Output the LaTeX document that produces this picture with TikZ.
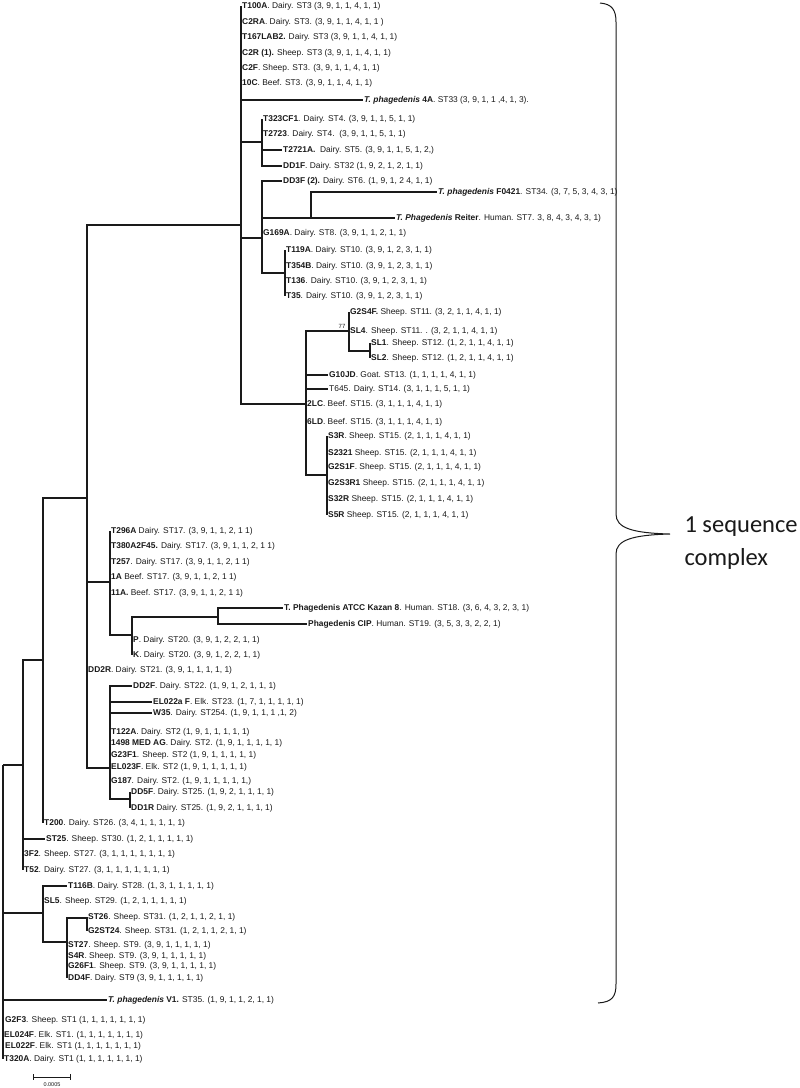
\documentclass[tikz,border=0pt]{standalone}
\usepackage{fontspec}
\setmainfont{Liberation Sans}
\newfontfamily\calfont{Carlito}
\usetikzlibrary{calc}
\definecolor{Ink}{HTML}{1A1A1A}
\tikzset{
  lf/.style={anchor=west,inner sep=1pt,font=\fontsize{8.4}{9}\selectfont,text=Ink},
  br/.style={draw=Ink,line width=1.2pt},
}
\newcommand{\spname}[1]{\textbf{\textit{#1}}}

\begin{document}
\begin{tikzpicture}[x=1pt,y=-1pt]
\fill[white] (0,0) rectangle (800,1088);
\useasboundingbox (0,0) rectangle (800,1088);
\coordinate (n241) at (241,225);
\node[lf] (T100A) at (241,6) {\textbf{T100A}. Dairy. ST3 (3, 9, 1, 1, 4, 1, 1)};
\node[lf] (C2RA) at (241,22) {\textbf{C2RA}. Dairy. ST3. (3, 9, 1, 1, 4, 1, 1 )};
\node[lf] (T167LAB2) at (241,37) {\textbf{T167LAB2.} Dairy. ST3 (3, 9, 1, 1, 4, 1, 1)};
\node[lf] (C2R) at (241,53) {\textbf{C2R (1).} Sheep. ST3 (3, 9, 1, 1, 4, 1, 1)};
\node[lf] (C2F) at (241,68) {\textbf{C2F}. Sheep. ST3. (3, 9, 1, 1, 4, 1, 1)};
\node[lf] (C10C) at (241,83) {\textbf{10C}. Beef. ST3. (3, 9, 1, 1, 4, 1, 1)};
\node[lf] (P4A) at (363,100) {\spname{T. phagedenis} \textbf{4A}. ST33 (3, 9, 1, 1 ,4, 1, 3).};
\coordinate (n262a) at (262,142);
\node[lf] (T323CF1) at (262,119) {\textbf{T323CF1}. Dairy. ST4. (3, 9, 1, 1, 5, 1, 1)};
\node[lf] (T2723) at (262,134) {\textbf{T2723}. Dairy. ST4.\ \ (3, 9, 1, 1, 5, 1, 1)};
\node[lf] (T2721A) at (282,150) {\textbf{T2721A.}\ \ Dairy. ST5. (3, 9, 1, 1, 5, 1, 2,)};
\node[lf] (DD1F) at (282,166) {\textbf{DD1F}. Dairy. ST32 (1, 9, 2, 1, 2, 1, 1)};
\coordinate (n262b) at (262,238);
\node[lf] (DD3F) at (282,181) {\textbf{DD3F (2).} Dairy. ST6. (1, 9, 1, 2 4, 1, 1)};
\coordinate (n311) at (311,218);
\node[lf] (F0421) at (437,192) {\spname{T. phagedenis} \textbf{F0421}. ST34. (3, 7, 5, 3, 4, 3, 1)};
\node[lf] (Reiter) at (395,218) {\spname{T. Phagedenis} \textbf{Reiter}. Human. ST7. 3, 8, 4, 3, 4, 3, 1)};
\node[lf] (G169A) at (262,233) {\textbf{G169A}. Dairy. ST8. (3, 9, 1, 1, 2, 1, 1)};
\coordinate (n285) at (285,273);
\node[lf] (T119A) at (285,250) {\textbf{T119A}. Dairy. ST10. (3, 9, 1, 2, 3, 1, 1)};
\node[lf] (T354B) at (285,266) {\textbf{T354B}. Dairy. ST10. (3, 9, 1, 2, 3, 1, 1)};
\node[lf] (T136) at (285,281) {\textbf{T136}. Dairy. ST10. (3, 9, 1, 2, 3, 1, 1)};
\node[lf] (T35) at (285,296) {\textbf{T35}. Dairy. ST10. (3, 9, 1, 2, 3, 1, 1)};
\coordinate (n306) at (306,404);
\coordinate (n349) at (349,331);
\node[lf] (G2S4F) at (349,312) {\textbf{G2S4F.} Sheep. ST11. (3, 2, 1, 1, 4, 1, 1)};
\node[lf] (SL4) at (349,331) {\textbf{SL4}. Sheep. ST11. . (3, 2, 1, 1, 4, 1, 1)};
\node[font=\fontsize{6}{6}\selectfont,text=Ink] (bs77) at (342,326) {77};
\coordinate (n370) at (370,351);
\node[lf] (SL1) at (370,343) {\textbf{SL1}. Sheep. ST12. (1, 2, 1, 1, 4, 1, 1)};
\node[lf] (SL2) at (370,358) {\textbf{SL2}. Sheep. ST12. (1, 2, 1, 1, 4, 1, 1)};
\node[lf] (G10JD) at (328,375) {\textbf{G10JD}. Goat. ST13. (1, 1, 1, 1, 4, 1, 1)};
\node[lf] (T645) at (328,389) {T645. Dairy. ST14. (3, 1, 1, 1, 5, 1, 1)};
\node[lf] (L2LC) at (306,404) {\textbf{2LC}. Beef. ST15. (3, 1, 1, 1, 4, 1, 1)};
\node[lf] (L6LD) at (306,422) {\textbf{6LD}. Beef. ST15. (3, 1, 1, 1, 4, 1, 1)};
\coordinate (n327) at (327,475);
\node[lf] (S3R) at (327,436) {\textbf{S3R}. Sheep. ST15. (2, 1, 1, 1, 4, 1, 1)};
\node[lf] (S2321) at (327,453) {\textbf{S2321} Sheep. ST15. (2, 1, 1, 1, 4, 1, 1)};
\node[lf] (G2S1F) at (327,467) {\textbf{G2S1F}. Sheep. ST15. (2, 1, 1, 1, 4, 1, 1)};
\node[lf] (G2S3R1) at (327,483) {\textbf{G2S3R1} Sheep. ST15. (2, 1, 1, 1, 4, 1, 1)};
\node[lf] (S32R) at (327,499) {\textbf{S32R} Sheep. ST15. (2, 1, 1, 1, 4, 1, 1)};
\node[lf] (S5R) at (327,515) {\textbf{S5R} Sheep. ST15. (2, 1, 1, 1, 4, 1, 1)};
\coordinate (n88) at (87,498);
\coordinate (n109) at (110,582);
\node[lf] (T296A) at (110,531) {\textbf{T296A} Dairy. ST17. (3, 9, 1, 1, 2, 1 1)};
\node[lf] (T380A2F45) at (110,546) {\textbf{T380A2F45.} Dairy. ST17. (3, 9, 1, 1, 2, 1 1)};
\node[lf] (T257) at (110,562) {\textbf{T257}. Dairy. ST17. (3, 9, 1, 1, 2, 1 1)};
\node[lf] (L1A) at (110,577) {\textbf{1A} Beef. ST17. (3, 9, 1, 1, 2, 1 1)};
\node[lf] (L11A) at (110,593) {\textbf{11A.} Beef. ST17. (3, 9, 1, 1, 2, 1 1)};
\coordinate (n132) at (132,635);
\coordinate (n218) at (218,617);
\node[lf] (Kazan) at (283,608) {\textbf{T. Phagedenis ATCC Kazan 8}. Human. ST18. (3, 6, 4, 3, 2, 3, 1)};
\node[lf] (CIP) at (307,624) {\textbf{Phagedenis CIP}. Human. ST19. (3, 5, 3, 3, 2, 2, 1)};
\node[lf] (P) at (132,640) {\textbf{P}. Dairy. ST20. (3, 9, 1, 2, 2, 1, 1)};
\node[lf] (K) at (132,655) {\textbf{K}. Dairy. ST20. (3, 9, 1, 2, 2, 1, 1)};
\node[lf] (DD2R) at (87,670) {\textbf{DD2R}. Dairy. ST21. (3, 9, 1, 1, 1, 1, 1)};
\coordinate (n110) at (110,768);
\node[lf] (DD2F) at (132,686) {\textbf{DD2F}. Dairy. ST22. (1, 9, 1, 2, 1, 1, 1)};
\node[lf] (EL022aF) at (152,702) {\textbf{EL022a F}. Elk. ST23. (1, 7, 1, 1, 1, 1, 1)};
\node[lf] (W35) at (152,713) {\textbf{W35}. Dairy. ST254. (1, 9, 1, 1, 1 ,1, 2)};
\node[lf] (T122A) at (110,732) {\textbf{T122A}. Dairy. ST2 (1, 9, 1, 1, 1, 1, 1)};
\node[lf] (MEDAG) at (110,743) {\textbf{1498 MED AG}. Dairy. ST2. (1, 9, 1, 1, 1, 1, 1)};
\node[lf] (G23F1) at (110,755) {\textbf{G23F1}. Sheep. ST2 (1, 9, 1, 1, 1, 1, 1)};
\node[lf] (EL023F) at (110,767) {\textbf{EL023F}. Elk. ST2 (1, 9, 1, 1, 1, 1, 1)};
\node[lf] (G187) at (110,781) {\textbf{G187}. Dairy. ST2. (1, 9, 1, 1, 1, 1, 1,)};
\coordinate (n130) at (130,799);
\node[lf] (DD5F) at (130,792) {\textbf{DD5F}. Dairy. ST25. (1, 9, 2, 1, 1, 1, 1)};
\node[lf] (DD1R) at (130,808) {\textbf{DD1R} Dairy. ST25. (1, 9, 2, 1, 1, 1, 1)};
\coordinate (n43) at (43,660);
\node[lf] (T200) at (43,823) {\textbf{T200}. Dairy. ST26. (3, 4, 1, 1, 1, 1, 1)};
\coordinate (n23) at (23,765);
\node[lf] (ST25) at (45,839) {\textbf{ST25}. Sheep. ST30. (1, 2, 1, 1, 1, 1, 1)};
\node[lf] (L3F2) at (23,854) {\textbf{3F2}. Sheep. ST27. (3, 1, 1, 1, 1, 1, 1, 1)};
\node[lf] (T52) at (23,870) {\textbf{T52}. Dairy. ST27. (3, 1, 1, 1, 1, 1, 1, 1)};
\coordinate (n43b) at (43,913);
\node[lf] (T116B) at (67,886) {\textbf{T116B}. Dairy. ST28. (1, 3, 1, 1, 1, 1, 1)};
\node[lf] (SL5) at (43,901) {\textbf{SL5}. Sheep. ST29. (1, 2, 1, 1, 1, 1, 1)};
\coordinate (n67) at (67,942);
\coordinate (n87) at (87,918);
\node[lf] (ST26) at (87,917) {\textbf{ST26}. Sheep. ST31. (1, 2, 1, 1, 2, 1, 1)};
\node[lf] (G2ST24) at (87,931) {\textbf{G2ST24}. Sheep. ST31. (1, 2, 1, 1, 2, 1, 1)};
\node[lf] (ST27) at (67,945) {\textbf{ST27}. Sheep. ST9. (3, 9, 1, 1, 1, 1, 1)};
\node[lf] (S4R) at (67,956) {\textbf{S4R}. Sheep. ST9. (3, 9, 1, 1, 1, 1, 1)};
\node[lf] (G26F1) at (67,966) {\textbf{G26F1}. Sheep. ST9. (3, 9, 1, 1, 1, 1, 1)};
\node[lf] (DD4F) at (67,978) {\textbf{DD4F}. Dairy. ST9 (3, 9, 1, 1, 1, 1, 1)};
\coordinate (n3) at (3,765);
\node[lf] (V1) at (107,1000) {\spname{T. phagedenis} \textbf{V1.} ST35. (1, 9, 1, 1, 2, 1, 1)};
\node[lf] (G2F3) at (4,1020) {\textbf{G2F3}. Sheep. ST1 (1, 1, 1, 1, 1, 1, 1)};
\node[lf] (EL024F) at (3,1035) {\textbf{EL024F}. Elk. ST1. (1, 1, 1, 1, 1, 1, 1)};
\node[lf] (EL022F) at (4,1046) {\textbf{EL022F}. Elk. ST1 (1, 1, 1, 1, 1, 1, 1)};
\node[lf] (T320A) at (3,1059) {\textbf{T320A}. Dairy. ST1 (1, 1, 1, 1, 1, 1, 1)};
\draw[br] (n241) |- (T100A.west) (n241) |- (P4A.west) (n241) |- (n262a) (n241) |- (n262b) (n241) |- (n306);
\draw[br] (n262a) |- (T323CF1.west) (n262a) |- (T2721A.west) (n262a) |- (DD1F.west);
\draw[br] (n262b) |- (DD3F.west) (n262b) |- (n311) (n262b) |- (G169A.west) (n262b) |- (n285);
\draw[br] (n311) |- (F0421.west) (n311) |- (Reiter.west);
\draw[br] (n285) |- (T119A.west) (n285) |- (T35.west);
\draw[br] (n306) |- (n349) (n306) |- (G10JD.west) (n306) |- (T645.west) (n306) |- (n327);
\draw[br] (n349) |- (G2S4F.west) (n349) |- (n370);
\draw[br] (n370) |- (SL1.west) (n370) |- (SL2.west);
\draw[br] (n327) |- (S3R.west) (n327) |- (S5R.west);
\draw[br] (n88) |- (n241) (n88) |- (n109) (n88) |- (n110);
\draw[br] (n109) |- (T296A.west) (n109) |- (L11A.west) (n109) |- (n132);
\draw[br] (n132) |- (n218) (n132) |- (K.west);
\draw[br] (n218) |- (Kazan.west) (n218) |- (CIP.west);
\draw[br] (n110) |- (DD2F.west) (n110) |- (EL022aF.west) (n110) |- (W35.west) (n110) |- (n130);
\draw[br] (n130) |- (DD5F.west) (n130) |- (DD1R.west);
\draw[br] (n43) |- (n88) (n43) |- (T200.west);
\draw[br] (n23) |- (n43) (n23) |- (ST25.west) (n23) |- (T52.west);
\draw[br] (n43b) |- (T116B.west) (n43b) |- (n67);
\draw[br] (n67) |- (n87) (n67) |- (DD4F.west);
\draw[br] (n87) |- (ST26.west) (n87) |- (G2ST24.west);
\draw[br] (n3) |- (n23) (n3) |- (n43b) (n3) |- (V1.west) (n3) |- (T320A.west);
\coordinate (sbL) at (33,1077);
\coordinate (sbR) at (70,1077);
\draw[draw=Ink,line width=0.8pt] (sbL) -- (sbR) ($(sbL)+(0,-3)$) -- ($(sbL)+(0,3)$) ($(sbR)+(0,-3)$) -- ($(sbR)+(0,3)$);
\node[font=\fontsize{5.5}{6}\selectfont,text=Ink] (sblab) at (52,1085) {0.0005};
\draw[Ink,line width=1pt] (600,3) .. controls (612,4) and (616,10) .. (616,22) -- (616,514) .. controls (616,528) and (632,533) .. (670,534) .. controls (632,535) and (616,540) .. (616,554) -- (616,984) .. controls (616,997) and (612,1002) .. (598,1003);
\node[anchor=west,align=left,font=\calfont\fontsize{24.5}{33}\selectfont,text=Ink] (cplx) at (681,543) {1 sequence\\complex};
\end{tikzpicture}
\end{document}
